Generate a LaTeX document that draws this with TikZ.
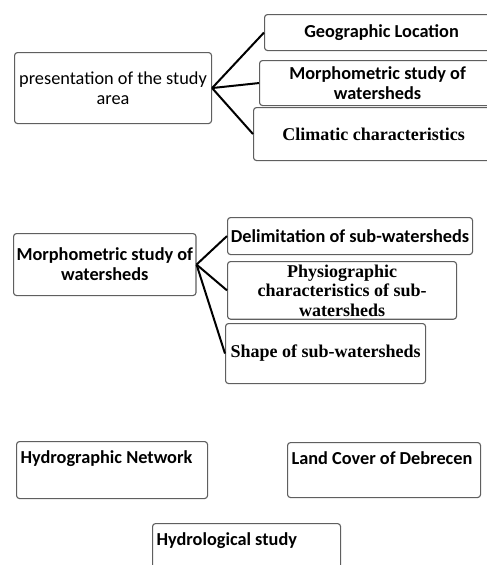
\documentclass[tikz,border=0pt]{standalone}
\usepackage{fontspec}
\setmainfont{Carlito}
\newfontfamily\timesfont{Liberation Serif}
\usepackage{xcolor}
\usetikzlibrary{positioning}
\definecolor{BoxGray}{RGB}{95, 95, 95}

\begin{document}
\begin{tikzpicture}[x=1pt, y=-1pt,
    box/.style={draw=BoxGray, line width=1.1pt, rounded corners=3pt, fill=white,
        align=center, inner sep=3pt, anchor=north west, font=\fontsize{18.3}{20}\selectfont},
    sansb/.style={font=\fontsize{18.3}{20}\selectfont\bfseries},
    serifb/.style={font=\fontsize{18}{19.5}\selectfont\timesfont\bfseries},
    topleft/.style={align=flush left, inner xsep=4pt, text height=19pt},
    link/.style={black, line width=2pt}]
    \useasboundingbox (0,0) rectangle (487,565);
    % first group
    \node[box, minimum width=197pt, minimum height=71pt] (area) at (14,52)
        {presentation of the study\\area};
    \node[box, sansb, minimum width=234pt, minimum height=36pt] (geo) at (264,14)
        {Geographic Location};
    \node[box, sansb, minimum width=236pt, minimum height=45pt] (morpho) at (259,60)
        {Morphometric study of\\watersheds};
    \node[box, serifb, minimum width=240pt, minimum height=53pt] (climate) at (253,107)
        {Climatic characteristics};
    \draw[link] (area.east) -- (geo.west);
    \draw[link] (area.east) -- (morpho.west);
    \draw[link] (area.east) -- (climate.west);
    % second group
    \node[box, sansb, minimum width=182pt, minimum height=62pt] (watershed) at (13,233)
        {Morphometric study of\\watersheds};
    \node[box, sansb, minimum width=245pt, minimum height=37pt] (delim) at (227,217)
        {Delimitation of sub-watersheds};
    \node[box, serifb, minimum width=229pt, minimum height=52pt] (physio) at (227,261)
        {Physiographic\\characteristics of sub-\\watersheds};
    \node[box, serifb, minimum width=200pt, minimum height=60pt] (shape) at (225,323)
        {Shape of sub-watersheds};
    \draw[link] (watershed.east) -- (delim.west);
    \draw[link] (watershed.east) -- (physio.west);
    \draw[link] (watershed.east) -- (shape.west);
    % third group
    \node[box, sansb, topleft, text width=183pt, text depth=32pt] (hydronet) at (16,441)
        {Hydrographic Network};
    \node[box, sansb, topleft, text width=185pt, text depth=30pt] (landcover) at (287,442)
        {Land Cover of Debrecen};
    \node[box, sansb, topleft, text width=180pt, text depth=40pt] (hydrology) at (152,523)
        {Hydrological study};
\end{tikzpicture}
\end{document}
